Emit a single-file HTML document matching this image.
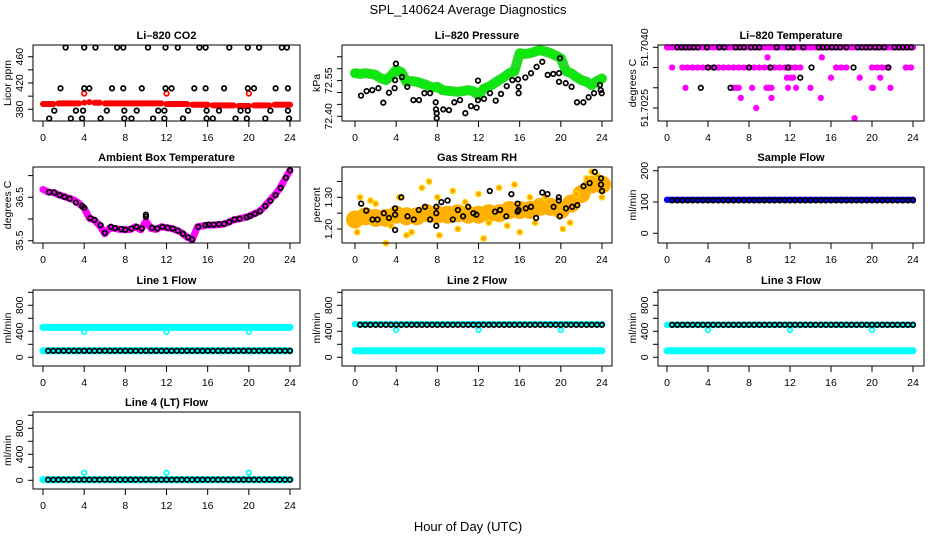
<!DOCTYPE html>
<html><head><meta charset="utf-8"><style>
html,body{margin:0;padding:0;background:#fff;}
svg{display:block;font-family:"Liberation Sans",sans-serif;}
</style></head><body>
<svg id="chart" width="936" height="540" viewBox="0 0 936 540">
<text x="468" y="14" text-anchor="middle" font-size="13">SPL_140624  Average Diagnostics</text>
<text x="468" y="531" text-anchor="middle" font-size="13">Hour of Day (UTC)</text>
</svg>
<script>
const H = [0,0.5,1,1.5,2,2.5,3,3.5,4,4.5,5,5.5,6,6.5,7,7.5,8,8.5,9,9.5,10,10.5,11,11.5,12,12.5,13,13.5,14,14.5,15,15.5,16,16.5,17,17.5,18,18.5,19,19.5,20,20.5,21,21.5,22,22.5,23,23.5,24];
const HB = [0.5,1,1.5,2,2.5,3,3.5,4,4.5,5,5.5,6,6.5,7,7.5,8,8.5,9,9.5,10,10.5,11,11.5,12,12.5,13,13.5,14,14.5,15,15.5,16,16.5,17,17.5,18,18.5,19,19.5,20,20.5,21,21.5,22,22.5,23,23.5,24];
const xTicks = [0,4,8,12,16,20,24];
const outX = [4,12,20];

// CO2
const co2Red = [388,388,388,389,389,389,389,389,390,391,390,390,389,389,389,389,389,389,389,389,389,389,389,389,388,388,388,388,388,387,387,387,387,386,386,386,386,386,385,385,385,386,386,386,386,387,387,387,387];
const co2RedOutY = [404,404,404];
const co2BlkX = [2.2,4.0,5.1,7.2,7.8,10.2,11.9,13.1,15.2,15.8,18.1,19.9,21.0,23.2,23.7, 1.7,4.0,4.5,6.7,7.8,9.6,11.9,12.5,14.7,15.8,17.6,19.9,20.5,22.6,23.8, 1.1,3.2,3.9,6.2,7.9,9.1,11.2,11.8,14.1,15.9,17.1,19.2,19.9,22.1,23.8, 0.6,2.7,3.8,5.6,7.9,8.6,10.7,11.8,13.6,15.9,16.5,18.7,19.8,21.6,23.9];
const co2BlkY = [474,474,474,474,474,474,474,474,474,474,474,474,474,474,474, 412,412,412,412,412,412,412,412,412,412,412,412,412,412,412, 378,378,378,378,378,378,378,378,378,378,378,378,378,378,378, 366,366,366,366,366,366,366,366,366,366,366,366,366,366,366];

// Pressure
const presGreen = [72.581,72.578,72.581,72.578,72.574,72.560,72.552,72.570,72.595,72.585,72.545,72.548,72.545,72.538,72.531,72.520,72.524,72.510,72.507,72.505,72.503,72.506,72.510,72.505,72.489,72.515,72.524,72.538,72.552,72.565,72.581,72.590,72.665,72.662,72.665,72.672,72.678,72.672,72.665,72.655,72.644,72.590,72.581,72.565,72.552,72.545,72.531,72.548,72.559];
const presBlkX = [0.58,1.13,1.68,2.27,2.75,3.3,3.85,3.9,3.97,4.57,5.08,5.67,6.22,6.74,7.29,7.84,7.87,7.94,7.94,8.58,9.13,9.65,10.2,10.72,11.27,11.82,11.95,11.95,12.53,13.12,13.67,14.19,14.74,15.29,15.84,15.9,15.9,16.55,17.1,17.65,18.2,18.72,19.27,19.82,19.82,19.92,20.47,21.05,21.57,22.19,22.7,23.22,23.8,23.87,23.97];
const presBlkY = [72.487,72.506,72.510,72.518,72.457,72.499,72.518,72.552,72.621,72.565,72.524,72.468,72.468,72.497,72.497,72.459,72.429,72.413,72.392,72.429,72.426,72.459,72.468,72.413,72.443,72.436,72.468,72.550,72.473,72.497,72.466,72.494,72.527,72.552,72.555,72.524,72.497,72.563,72.581,72.608,72.629,72.574,72.578,72.581,72.545,72.644,72.539,72.524,72.459,72.459,72.480,72.497,72.532,72.510,72.497];

// Li-820 Temperature
const tMagX = [0.5,1.5,2,2.5,3,3.5,4,4.5,5,5.5,6,6.5,7,7.5,8,8.5,9,9.5,10,10.5,11,11.5,12,12.5,13,16.5,17,17.5,20,20.5,21,21.5,23.3,23.8, 9.8,15.1, 11.7,12.1,12.3,16,18.8,20.8, 1.8,6.5,6.8,7.0,8.3,9.7,9.9,10.2,11.8,12.6,14,20.0,20.1,21.8, 7.2,10.2,15, 8.7, 18.3];
const tMagY = [51.7035,51.7035,51.7035,51.7035,51.7035,51.7035,51.7035,51.7035,51.7035,51.7035,51.7035,51.7035,51.7035,51.7035,51.7035,51.7035,51.7035,51.7035,51.7035,51.7035,51.7035,51.7035,51.7035,51.7035,51.7035,51.7035,51.7035,51.7035,51.7035,51.7035,51.7035,51.7035,51.7035,51.7035, 51.70375,51.70375, 51.70325,51.70325,51.70325,51.70325,51.70325,51.70325, 51.7030,51.7030,51.7030,51.7030,51.7030,51.7030,51.7030,51.7030,51.7030,51.7030,51.7030,51.7030,51.7030,51.7030, 51.70275,51.70275,51.70275, 51.7025, 51.70225];
const tMagTop = [51.704,51.704,51.704,51.704,51.704,51.704,51.704,51.704,51.704,51.704,51.704,51.704,51.704,51.704,51.704,51.704,51.704,51.704,51.704,51.704,51.704,51.704,51.704,51.704,51.704,51.704,51.704,51.704,51.704,51.704,51.704,51.704,51.704,51.704,51.704,51.704,51.704,51.704,51.704,51.704,51.704,51.704,51.704,51.704,51.704,51.704,51.704,51.704,51.704];
const tBlkX = [1.0,1.4,1.8,2.2,2.6,3.0,3.9,5.1,5.6,6.7,7.1,7.5,8.2,8.6,9.0,10.7,11.8,12.3,13.3,14.8,15.2,15.6,16.1,16.5,16.9,17.5,18.6,19.0,19.4,19.8,20.3,20.7,21.2,22.2,22.6,23.0,23.4,23.8, 4.0,4.6,8.0,10.1,11.8,14.1,18.2,21.6, 13.0, 3.3,6.2];
const tBlkY = [51.704,51.704,51.704,51.704,51.704,51.704,51.704,51.704,51.704,51.704,51.704,51.704,51.704,51.704,51.704,51.704,51.704,51.704,51.704,51.704,51.704,51.704,51.704,51.704,51.704,51.704,51.704,51.704,51.704,51.704,51.704,51.704,51.704,51.704,51.704,51.704,51.704,51.704, 51.7035,51.7035,51.7035,51.7035,51.7035,51.7035,51.7035,51.7035, 51.70325, 51.703,51.703];

// Ambient box temperature
const ambMag = [36.68,36.62,36.61,36.56,36.52,36.48,36.44,36.36,36.25,36.02,35.97,35.85,35.66,35.80,35.78,35.76,35.75,35.76,35.82,35.75,35.95,35.78,35.76,35.82,35.80,35.78,35.74,35.68,35.58,35.52,35.82,35.84,35.86,35.86,35.87,35.88,35.92,35.98,36.00,36.03,36.06,36.12,36.17,36.28,36.42,36.55,36.70,36.92,37.12];
const ambBlkX = [0.6,1.1,1.6,2.1,2.6,3.2,3.8,4.0,4.6,5.0,5.6,6.0,6.6,7.0,7.6,8.0,8.6,9.1,9.6,10.0,10.0,10.6,11.1,11.6,12.1,12.6,13.1,13.6,14.1,14.5,15.1,15.8,16.1,16.6,17.1,17.6,18.1,18.6,19.1,19.8,20.1,20.6,21.1,21.6,22.1,22.6,23.1,23.6,24.0];
const ambBlkY = [36.62,36.61,36.55,36.51,36.47,36.38,36.30,36.26,36.02,35.98,35.86,35.68,35.82,35.79,35.77,35.75,35.78,35.82,35.78,36.10,36.05,35.80,35.78,35.82,35.80,35.78,35.73,35.66,35.58,35.53,35.82,35.86,35.87,35.87,35.88,35.89,35.93,35.99,36.01,36.04,36.07,36.12,36.18,36.30,36.42,36.55,36.72,36.95,37.12];

// Gas stream RH
const rhCenterX = [0,1,2,3,4,5,6,7,8,9,10,11,12,13,14,15,16,17,18,19,20,21,22,23,24];
const rhCenterY = [1.23,1.24,1.235,1.235,1.245,1.24,1.24,1.25,1.245,1.245,1.25,1.245,1.245,1.25,1.25,1.26,1.26,1.26,1.27,1.27,1.26,1.28,1.31,1.34,1.34];
const rhOrX = [0.2,0.5,1.5,2.0,3,3.5,4.3,5,5.5,6.5,7.2,8,8.2,9.5,10,10.7,12,12.5,13,14,14.8,15.5,16,17,17.5,18.5,19.3,20.2,20.9,21.5,22.5,23,23.5,24];
const rhOrY = [1.19,1.30,1.29,1.28,1.155,1.21,1.30,1.18,1.19,1.33,1.35,1.30,1.18,1.32,1.20,1.285,1.31,1.17,1.22,1.33,1.21,1.34,1.19,1.30,1.22,1.30,1.27,1.20,1.22,1.31,1.36,1.38,1.37,1.30];
const rhBlkX = [0.6,1.1,1.7,2.2,2.8,3.3,3.9,3.9,3.9,4.5,5.1,5.7,6.2,6.8,7.3,7.9,7.9,7.9,8.4,9.0,9.5,10.0,10.5,11.0,11.5,11.8,13.1,13.6,14.1,14.7,15.2,15.8,15.8,15.9,16.6,17.1,17.6,18.2,18.7,19.3,19.8,19.8,19.9,20.5,21.1,21.6,22.2,22.8,23.3,23.9,23.9,24.0];
const rhBlkY = [1.28,1.258,1.23,1.23,1.25,1.235,1.265,1.245,1.197,1.30,1.24,1.23,1.26,1.27,1.23,1.27,1.25,1.21,1.285,1.29,1.23,1.26,1.24,1.27,1.25,1.245,1.32,1.255,1.26,1.24,1.31,1.28,1.255,1.26,1.265,1.27,1.235,1.315,1.31,1.27,1.29,1.30,1.24,1.265,1.27,1.275,1.335,1.345,1.38,1.36,1.34,1.32];

// Flows
const sampBlue = 107, sampBlk = 105;
const l1CyanHi = 460, l1CyanLo = 100, l1Blk = 100, l1Out = 390;
const l2CyanHi = 510, l2CyanLo = 100, l2Blk = 500, l2Out = 420;
const l3CyanHi = 500, l3CyanLo = 100, l3Blk = 500, l3Out = 420;
const l4Cyan = 10, l4Blk = 10, l4Out = 115;

const NS = 'http://www.w3.org/2000/svg';
const svg = document.getElementById('chart');
function mk(tag, attrs, parent){ const e=document.createElementNS(NS,tag); for(const k in attrs) e.setAttribute(k,attrs[k]); (parent||svg).appendChild(e); return e; }
function fill(v,n){ return H.slice(0,n).map(()=>v); }

const COLS = [{l:33,r:300,x0:43,x24:290},{l:342,r:612,x0:355,x24:602},{l:658,r:924,x0:667,x24:913}];
const ROWS = [{t:45,b:121},{t:167,b:243},{t:290,b:366},{t:412,b:489}];

function panel(p){
  const c=COLS[p.col], r=ROWS[p.row];
  const g=mk('g',{});
  
  
  const xs=v=>c.x0+(v/24)*(c.x24-c.x0);
  const ys=v=>p.yp1+(v-p.yv1)*(p.yp2-p.yp1)/(p.yv2-p.yv1);
  const t=mk('text',{x:(c.l+c.r)/2,y:r.t-6,'text-anchor':'middle','font-size':11,'font-weight':'bold'},g);
  t.textContent=p.title;
  
  
  p.series.forEach(s=>{
    const sg=mk('g',{},g);
    
    
    if(s.band){
      let d='';
      for(let i=0;i<s.x.length;i++){
        const px=xs(s.x[i]).toFixed(1), py=ys(s.y[i]).toFixed(1);
        const connect = i>0 && Math.abs(s.x[i]-s.x[i-1])<=0.6 && (s.line || s.y[i]===s.y[i-1]);
        d += (connect?'L':'M')+px+' '+py;
        if(!connect) d+='l0.01 0';
      }
      const path=mk('path',{d:d,fill:'none',stroke:s.bandColor||s.color,'stroke-width':s.band,'stroke-linecap':'round','stroke-linejoin':'round'},sg);
      
      
    }
    if(!s.noPts){
      for(let i=0;i<s.x.length;i++){
        const ci=mk('circle',{cx:xs(s.x[i]).toFixed(1),cy:ys(s.y[i]).toFixed(1),r:s.r||2.3,fill:s.fill||'none',stroke:s.color,'stroke-width':s.sw||1.7},sg);
        
        
      }
    }
  });
  const box=mk('rect',{x:c.l,y:r.t,width:c.r-c.l,height:r.b-r.t,fill:'none',stroke:'#000','stroke-width':1},g);
  
  
  xTicks.forEach(v=>{
    const x=xs(v);
    mk('line',{x1:x,x2:x,y1:r.b,y2:r.b+6,stroke:'#000'},g);
    const tl=mk('text',{x:x,y:r.b+20,'text-anchor':'middle','font-size':10.5},g);
    tl.textContent=v;
    
    
  });
  p.yTicks.forEach(v=>{
    const y=ys(v);
    mk('line',{x1:c.l-5,x2:c.l,y1:y,y2:y,stroke:'#000'},g);
  });
  p.yLabels.forEach(v=>{
    const y=ys(v);
    const tl=mk('text',{x:c.l-10,y:y,'text-anchor':'middle','font-size':10.5,transform:`rotate(-90 ${c.l-10} ${y})`},g);
    tl.textContent=p.fmt?p.fmt(v):v;
    
    
  });
  const yl=mk('text',{x:c.l-22,y:(r.t+r.b)/2,'text-anchor':'middle','font-size':10.5,transform:`rotate(-90 ${c.l-22} ${(r.t+r.b)/2})`},g);
  yl.textContent=p.ylab;
  
  
}

const CY='#00ffff', BK='#000';
panel({name:'co2-panel',title:'Li\u2013820 CO2',col:0,row:0,yv1:380,yp1:109.3,yv2:460,yp2:56.7,yTicks:[380,400,420,440,460],yLabels:[380,420,460],ylab:'Licor ppm',
  series:[{name:'co2-red',x:H,y:co2Red,color:'#ff0000',band:6,r:2},{name:'co2-red-outlier',x:outX,y:co2RedOutY,color:'#ff0000'},{name:'co2-black',x:co2BlkX,y:co2BlkY,color:BK}]});
panel({name:'pressure-panel',title:'Li\u2013820 Pressure',col:1,row:0,yv1:72.40,yp1:116.3,yv2:72.55,yp2:80.6,yTicks:[72.40,72.45,72.50,72.55,72.60,72.65],yLabels:[72.40,72.55],fmt:v=>v.toFixed(2),ylab:'kPa',
  series:[{name:'pressure-green',x:H,y:presGreen,color:'#00ee00',bandColor:'#22dd22',band:10,line:true,r:2.3},{name:'pressure-black',x:presBlkX,y:presBlkY,color:BK}]});
panel({name:'li820-temp-panel',title:'Li\u2013820 Temperature',col:2,row:0,yv1:51.7040,yp1:47.3,yv2:51.7025,yp2:108,yTicks:[51.7040,51.7035,51.7030,51.7025],yLabels:[51.7040,51.7025],fmt:v=>v.toFixed(4),ylab:'degrees C',
  series:[{name:'temp-magenta-top',x:H,y:tMagTop,color:'#ff00ff',band:6},{name:'temp-magenta',x:tMagX,y:tMagY,color:'#ff00ff',band:5},{name:'temp-black',x:tBlkX,y:tBlkY,color:BK}]});
panel({name:'ambient-temp-panel',title:'Ambient Box Temperature',col:0,row:1,yv1:36.5,yp1:197.3,yv2:35.5,yp2:240.7,yTicks:[35.5,36.0,36.5,37.0],yLabels:[35.5,36.5],fmt:v=>v.toFixed(1),ylab:'degrees C',
  series:[{name:'ambient-magenta',x:H,y:ambMag,color:'#ff00ff',band:7,line:true},{name:'ambient-black',x:ambBlkX,y:ambBlkY,color:BK}]});
panel({name:'rh-panel',title:'Gas Stream RH',col:1,row:1,yv1:1.30,yp1:197.3,yv2:1.20,yp2:229,yTicks:[1.20,1.25,1.30,1.35],yLabels:[1.20,1.30],fmt:v=>v.toFixed(2),ylab:'percent',
  series:[{name:'rh-band',x:rhCenterX,y:rhCenterY,color:'#ffa500',bandColor:'#ffb000',band:18,line:true,noPts:true},{name:'rh-orange',x:rhOrX,y:rhOrY,color:'#ffd700',fill:'#ff9900',r:2.6,sw:1.5},{name:'rh-black',x:rhBlkX,y:rhBlkY,color:BK}]});
panel({name:'sample-flow-panel',title:'Sample Flow',col:2,row:1,yv1:0,yp1:233.3,yv2:200,yp2:170.7,yTicks:[0,100,200],yLabels:[0,100,200],ylab:'ml/min',
  series:[{name:'sample-blue',x:H,y:fill(sampBlue,49),color:'#0000ff',band:6},{name:'sample-black',x:HB,y:fill(sampBlk,48),color:BK}]});
const fT=[0,200,400,600,800,1000], fL=[0,400,800];
panel({name:'line1-flow-panel',title:'Line 1 Flow',col:0,row:2,yv1:0,yp1:357.3,yv2:800,yp2:305.3,yTicks:fT,yLabels:fL,ylab:'ml/min',
  series:[{name:'line1-cyan-hi',x:H,y:fill(l1CyanHi,49),color:CY,band:7},{name:'line1-cyan-lo',x:H,y:fill(l1CyanLo,49),color:CY,band:7},{name:'line1-cyan-outlier',x:outX,y:[l1Out,l1Out,l1Out],color:CY},{name:'line1-black',x:HB,y:fill(l1Blk,48),color:BK}]});
panel({name:'line2-flow-panel',title:'Line 2 Flow',col:1,row:2,yv1:0,yp1:357.3,yv2:800,yp2:305.3,yTicks:fT,yLabels:fL,ylab:'ml/min',
  series:[{name:'line2-cyan-hi',x:H,y:fill(l2CyanHi,49),color:CY,band:6},{name:'line2-cyan-lo',x:H,y:fill(l2CyanLo,49),color:CY,band:7},{name:'line2-cyan-outlier',x:outX,y:[l2Out,l2Out,l2Out],color:CY},{name:'line2-black',x:HB,y:fill(l2Blk,48),color:BK}]});
panel({name:'line3-flow-panel',title:'Line 3 Flow',col:2,row:2,yv1:0,yp1:357.3,yv2:800,yp2:305.3,yTicks:fT,yLabels:fL,ylab:'ml/min',
  series:[{name:'line3-cyan-hi',x:H,y:fill(l3CyanHi,49),color:CY,band:6},{name:'line3-cyan-lo',x:H,y:fill(l3CyanLo,49),color:CY,band:7},{name:'line3-cyan-outlier',x:outX,y:[l3Out,l3Out,l3Out],color:CY},{name:'line3-black',x:HB,y:fill(l3Blk,48),color:BK}]});
panel({name:'line4-flow-panel',title:'Line 4 (LT) Flow',col:0,row:3,yv1:0,yp1:480.3,yv2:800,yp2:428.3,yTicks:fT,yLabels:fL,ylab:'ml/min',
  series:[{name:'line4-cyan',x:H,y:fill(l4Cyan,49),color:CY,band:7},{name:'line4-cyan-outlier',x:outX,y:[l4Out,l4Out,l4Out],color:CY},{name:'line4-black',x:HB,y:fill(l4Blk,48),color:BK}]});
</script>
</body></html>
